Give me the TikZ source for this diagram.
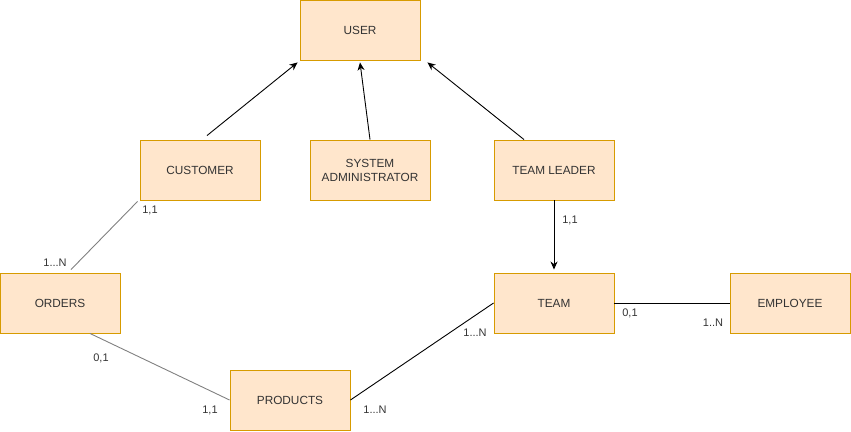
\documentclass[tikz,border=0pt]{standalone}
\usepackage{fontspec}
\setmainfont{Liberation Sans}
\usepackage{tikz}
\usetikzlibrary{arrows,arrows.meta,positioning}
\definecolor{entfill}{HTML}{FFE6CC}
\definecolor{entdraw}{HTML}{D79B00}
\definecolor{txt}{HTML}{333333}
\definecolor{grayline}{HTML}{808080}

\begin{document}
\begin{tikzpicture}[x=1pt,y=-1pt]
\tikzstyle{entity}=[draw=entdraw,fill=entfill,line width=0.9pt,minimum width=120pt,minimum height=60pt,inner sep=0pt,align=center,text=txt,font=\fontsize{11.8}{14}\selectfont]
\tikzstyle{card}=[text=txt,inner sep=0pt,font=\fontsize{11}{13}\selectfont]
\tikzstyle{arrow}=[line width=0.9pt,-{Stealth[length=8pt,width=7pt,inset=2.5pt]}]
\tikzstyle{rel}=[line width=0.9pt]
\useasboundingbox (0,0) rectangle (851,431);
% entities
\node [entity] at (360,30) (user) {USER};
\node [entity] at (200,170) (customer) {CUSTOMER};
\node [entity] at (370,170) (sysadmin) {SYSTEM\\ADMINISTRATOR};
\node [entity] at (554,170) (leader) {TEAM LEADER};
\node [entity] at (60,303) (orders) {ORDERS};
\node [entity] at (290,400) (products) {PRODUCTS};
\node [entity] at (554,303) (team) {TEAM};
\node [entity] at (790,303) (employee) {EMPLOYEE};
% inheritance
\draw [arrow] ([xshift=7pt,yshift=4pt]customer.north) -- ([xshift=-2pt,yshift=-2pt]user.south west);
\draw [arrow] (sysadmin.north) -- ([yshift=-2pt]user.south);
\draw [arrow] ([xshift=-30pt]leader.north) -- ([xshift=7pt,yshift=-2pt]user.south east);
\draw [arrow] (leader.south) -- ([yshift=3pt]team.north);
% relations
\draw [rel,grayline] ([xshift=-2pt,yshift=-1pt]customer.south west) -- ([xshift=11pt,yshift=3pt]orders.north);
\draw [rel,grayline] ([xshift=30pt]orders.south) -- (products.west);
\draw [rel] (products.east) -- (team.west);
\draw [rel] (team.east) -- (employee.west);
% cardinalities
\node [card] at (150,210) (c1) {1,1};
\node [card] at (55,263) (c2) {1...N};
\node [card] at (101,358) (c3) {0,1};
\node [card] at (210,410) (c4) {1,1};
\node [card] at (375,410) (c5) {1...N};
\node [card] at (475,333) (c6) {1...N};
\node [card] at (570,220) (c7) {1,1};
\node [card] at (630,313) (c8) {0,1};
\node [card] at (713,323) (c9) {1..N};
\end{tikzpicture}
\end{document}
